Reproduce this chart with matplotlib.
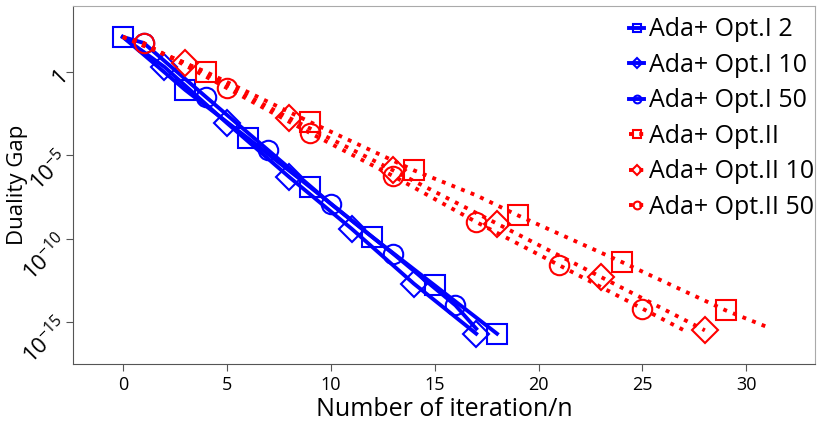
import matplotlib
matplotlib.use("Agg")
import matplotlib.pyplot as plt
import numpy as np

plt.rcParams.update({
    "font.family": "Open Sans",
    "mathtext.fontset": "custom",
    "mathtext.rm": "Open Sans",
    "mathtext.it": "Open Sans",
})

# log10 of the duality gap
it_opt1_2 = [0, 3, 6, 9, 12, 15, 18]
gap_opt1_2 = [2.1, -1.08, -3.96, -6.9, -9.9, -12.8, -15.7]

it_opt1_10 = [0, 2, 5, 8, 11, 14, 17]
gap_opt1_10 = [2.1, 0.3, -3.06, -6.3, -9.4, -12.7, -15.7]

it_opt1_50 = [0, 1, 4, 7, 10, 13, 16, 17]
gap_opt1_50 = [2.1, 1.74, -1.5, -4.7, -7.9, -10.9, -14.0, -15.4]

it_opt2 = [0, 4, 9, 14, 17, 19, 24, 29, 31]
gap_opt2 = [2.1, 0.0, -3.0, -5.9, -7.4, -8.6, -11.4, -14.3, -15.3]

it_opt2_10 = [0, 3, 8, 13, 18, 23, 28]
gap_opt2_10 = [2.1, 0.54, -2.76, -5.9, -9.1, -12.3, -15.5]

it_opt2_50 = [0, 1, 5, 9, 13, 17, 21, 25, 27]
gap_opt2_50 = [2.1, 1.74, -0.96, -3.66, -6.24, -9.0, -11.6, -14.2, -15.5]

series = [
    ("Ada+ Opt.I 2", it_opt1_2, gap_opt1_2, "blue", "-", "s", 14, list(range(0, 7))),
    ("Ada+ Opt.I 10", it_opt1_10, gap_opt1_10, "blue", "-", "D", 13, list(range(1, 7))),
    ("Ada+ Opt.I 50", it_opt1_50, gap_opt1_50, "blue", "-", "o", 14, list(range(1, 7))),
    ("Ada+ Opt.II", it_opt2, gap_opt2, "red", ":", "s", 14, [1, 2, 3, 5, 6, 7]),
    ("Ada+ Opt.II 10", it_opt2_10, gap_opt2_10, "red", ":", "D", 13, list(range(1, 7))),
    ("Ada+ Opt.II 50", it_opt2_50, gap_opt2_50, "red", ":", "o", 14, list(range(1, 8))),
]

fig = plt.figure(figsize=(8.22, 4.25), dpi=100)
ax = fig.add_axes([0.0888, 0.1435, 0.9027, 0.8425])

for label, x, y, c, ls, m, ms, me in series:
    ax.plot(x, 10.0 ** np.array(y), color=c, linestyle=ls, linewidth=2.8,
            marker=m, markersize=ms, markerfacecolor="none", markeredgecolor=c,
            markeredgewidth=1.5, markevery=me, label=label)

ax.set_yscale("log")
ax.set_xlim(-2.4, 33.3)
ax.set_ylim(10 ** -17.52, 10 ** 3.96)
ax.set_xticks([0, 5, 10, 15, 20, 25, 30])
ax.set_yticks([1, 1e-5, 1e-10, 1e-15])
ax.set_yticklabels(["1", r"$10^{-5}$", r"$10^{-10}$", r"$10^{-15}$"])
ax.minorticks_off()
ax.tick_params(axis="both", direction="out", color="#555555", length=5, labelsize=13)
ax.tick_params(axis="y", pad=1)
for lab in ax.get_yticklabels():
    lab.set_rotation(45)
    lab.set_rotation_mode("anchor")
    lab.set_ha("right")
    lab.set_va("center")
    lab.set_fontsize(16)

for s in ["left", "bottom"]:
    ax.spines[s].set_color("#555555")
for s in ["top", "right"]:
    ax.spines[s].set_color("#aaaaaa")

ax.set_xlabel("Number of iteration/n", fontsize=18, labelpad=2)
ax.set_ylabel("Duality Gap", fontsize=16)
ax.yaxis.set_label_coords(-0.061, 0.5)

ax.legend(loc="upper right", bbox_to_anchor=(1.009, 0.989), frameon=False,
          fontsize=18, markerscale=0.4, handlelength=0.6, handletextpad=0.2,
          labelspacing=0.42, borderaxespad=0.0, borderpad=0.3)

fig.savefig("out.png", dpi=100)
